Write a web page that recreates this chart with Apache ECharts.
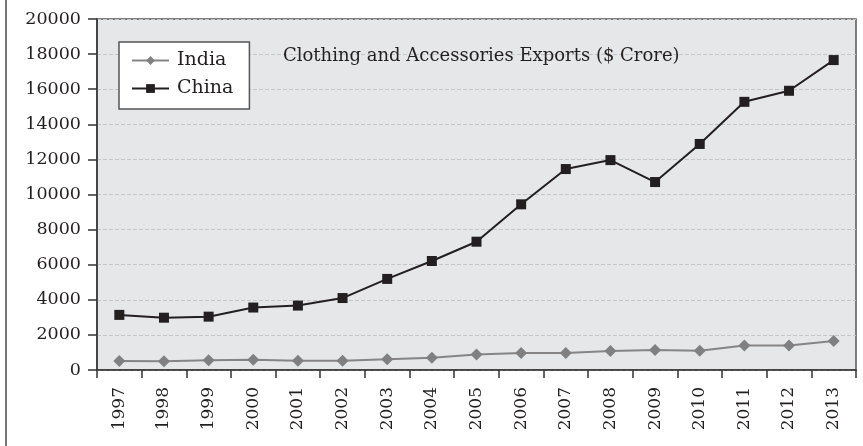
<!DOCTYPE html>
<html>
<head>
<meta charset="utf-8">
<script src="https://cdn.jsdelivr.net/npm/echarts@6/dist/echarts.min.js"></script>
<style>html,body{margin:0;padding:0;background:#fff}#c{width:863px;height:446px}</style>
</head>
<body>
<div id="c"></div>
<script>
const years = ['1997','1998','1999','2000','2001','2002','2003','2004','2005','2006','2007','2008','2009','2010','2011','2012','2013'];
const india = [510, 500, 550, 590, 530, 530, 610, 700, 880, 970, 970, 1080, 1140, 1100, 1390, 1390, 1650];
const china = [3140, 2980, 3040, 3560, 3670, 4100, 5190, 6210, 7310, 9440, 11450, 11960, 10710, 12880, 15280, 15910, 17660];
const yTicks = {min: 0, max: 20000, interval: 2000};
const titleText = 'Clothing and Accessories Exports ($ Crore)';

const FONT = 'DejaVu Serif';
const chart = echarts.init(document.getElementById('c'));
chart.setOption({
  animation: false,
  backgroundColor: '#ffffff',
  title: {
    text: titleText,
    left: 278, top: 42,
    textStyle: {fontFamily: FONT, fontSize: 18, fontWeight: 'normal', color: '#231f20'}
  },
  legend: {
    orient: 'vertical',
    left: 119, top: 42,
    padding: [9, 16, 11, 12],
    itemGap: 9,
    itemWidth: 37, itemHeight: 11,
    backgroundColor: '#ffffff',
    borderColor: '#555',
    borderWidth: 1.5,
    textStyle: {fontFamily: FONT, fontSize: 19, color: '#231f20', padding: [0, 0, 0, 3]},
    data: ['India', 'China']
  },
  grid: {
    left: 97, right: 7, top: 19, bottom: 76,
    show: true, backgroundColor: '#e6e7e9', borderColor: '#555', borderWidth: 1.5
  },
  graphic: [{
    type: 'line', shape: {x1: 6, y1: 0, x2: 6, y2: 446},
    style: {stroke: '#777', lineWidth: 2}
  }],
  xAxis: {
    type: 'category',
    data: years,
    boundaryGap: true,
    axisLine: {lineStyle: {color: '#333', width: 1.5}},
    axisTick: {show: true, length: 8, alignWithLabel: false, lineStyle: {color: '#333', width: 1.5}},
    axisLabel: {rotate: 90, fontFamily: FONT, fontSize: 17, color: '#231f20', margin: 17, interval: 0},
    splitLine: {show: false}
  },
  yAxis: {
    type: 'value',
    min: yTicks.min, max: yTicks.max, interval: yTicks.interval,
    axisLine: {show: true, lineStyle: {color: '#333', width: 1.5}},
    axisTick: {show: true, length: 9, lineStyle: {color: '#333', width: 1.5}},
    axisLabel: {fontFamily: FONT, fontSize: 17.5, color: '#231f20', margin: 16, formatter: v => String(v)},
    splitLine: {show: true, lineStyle: {color: '#c4c5c8', type: [4, 2], width: 1}}
  },
  series: [
    {
      name: 'India', type: 'line', data: india,
      symbol: 'diamond', symbolSize: 12,
      lineStyle: {color: '#858586', width: 2},
      itemStyle: {color: '#808081'}
    },
    {
      name: 'China', type: 'line', data: china,
      symbol: 'rect', symbolSize: 10,
      lineStyle: {color: '#231f20', width: 2},
      itemStyle: {color: '#231f20'}
    }
  ]
});
</script>
</body>
</html>
